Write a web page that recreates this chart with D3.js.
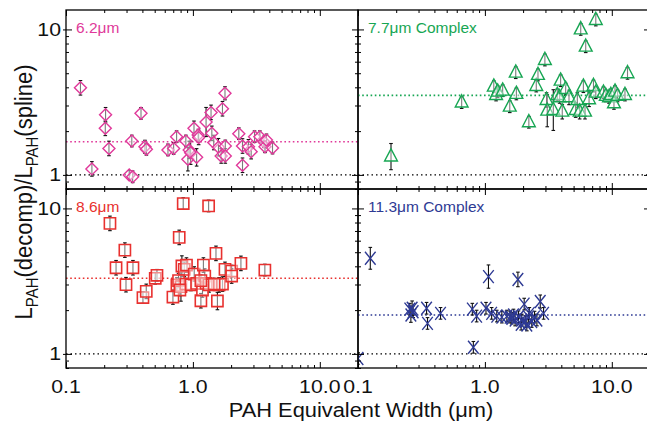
<!DOCTYPE html>
<html><head><meta charset="utf-8">
<script src="https://cdn.jsdelivr.net/npm/d3@7"></script>
<style>body{margin:0;background:#fff}svg{display:block}</style>
</head><body><svg id="c" width="647" height="427"></svg>
<script>
// ---------- data ----------
const ew62    = [0.13,0.16,0.205,0.204,0.218,0.315,0.335,0.39,0.33,0.419,0.43,0.636,0.705,0.744,0.88,0.913,0.935,0.96,1.02,1.07,1.10,1.11,1.27,1.39,1.41,1.46,1.59,1.67,1.71,1.79,1.80,1.80,2.30,2.46,2.46,2.74,2.88,3.06,3.37,3.62,3.70,3.80,4.24];
const ratio62 = [3.97,1.10,2.59,2.09,1.52,1.00,0.97,2.65,1.71,1.56,1.50,1.485,1.52,1.83,1.71,1.28,1.485,1.42,2.09,1.32,1.88,1.81,2.31,2.69,1.93,1.67,1.55,1.35,2.85,3.64,1.58,1.35,1.92,1.165,1.58,1.56,1.445,1.83,1.83,1.69,1.56,1.74,1.53];
const err62   = [0.05,0.05,0.05,0.05,0.05,0.03,0.04,0.04,0.04,0.045,0.04,0.04,0.04,0.04,0.04,0.08,0.06,0.08,0.05,0.06,0.04,0.05,0.10,0.05,0.05,0.05,0.06,0.05,0.05,0.045,0.04,0.05,0.04,0.05,0.05,0.05,0.05,0.04,0.04,0.04,0.04,0.04,0.04];
const median62 = 1.69;

const ew77    = [0.182,0.656,1.175,1.225,1.26,1.38,1.57,1.75,1.77,2.22,2.54,2.62,2.97,3.06,3.10,3.46,3.72,3.88,3.95,4.07,4.33,4.6,5.19,5.35,5.58,5.69,5.97,6.15,6.23,6.62,7.17,7.48,7.48,8.6,8.97,9.5,9.83,10.4,10.6,11.1,12.7,13.3];
const ratio77 = [1.336,3.14,4.04,3.54,3.73,3.79,2.94,5.04,3.60,2.30,4.08,4.86,6.16,3.27,2.76,2.79,3.54,3.41,4.44,2.72,3.89,3.41,2.79,3.27,2.72,10.0,4.04,2.72,7.6,3.31,4.08,11.6,3.67,3.67,3.49,3.41,3.54,3.1,3.73,3.49,3.54,4.99];
const err77   = [0.09,0.04,0.04,0.04,0.04,0.04,0.04,0.04,0.04,0.04,0.04,0.04,0.04,0.05,0.11,0.14,0.04,0.04,0.04,0.05,0.04,0.05,0.05,0.05,0.05,0.04,0.04,0.05,0.04,0.05,0.04,0.04,0.04,0.04,0.04,0.04,0.04,0.04,0.04,0.04,0.04,0.04];
const median77 = 3.52;

const ew86    = [0.222,0.248,0.291,0.297,0.337,0.404,0.429,0.505,0.521,0.696,0.748,0.78,0.805,0.819,0.839,0.855,0.89,0.771,0.881,0.965,1.024,1.07,1.156,1.19,1.21,1.24,1.27,1.33,1.34,1.52,1.56,1.61,1.71,1.79,2.02,2.02,2.39,3.69,0.79,1.156,1.47];
const ratio86 = [7.89,3.91,5.17,2.99,3.91,2.44,2.69,3.31,3.47,2.46,2.98,6.32,2.90,4.02,10.8,3.81,4.08,3.19,3.02,2.98,3.54,3.05,2.32,2.75,4.08,3.43,3.05,10.4,2.98,4.91,2.31,2.98,3.02,3.81,3.71,3.43,4.19,3.77,2.75,3.19,3.02];
const err86   = [0.05,0.05,0.05,0.05,0.05,0.04,0.05,0.04,0.04,0.05,0.05,0.05,0.10,0.07,0.04,0.05,0.05,0.05,0.04,0.04,0.05,0.04,0.05,0.05,0.05,0.05,0.04,0.04,0.05,0.05,0.06,0.05,0.05,0.05,0.04,0.05,0.05,0.04,0.04,0.04,0.04];
const median86 = 3.31;

const ew113    = [0.125,0.1,0.256,0.267,0.261,0.272,0.347,0.353,0.447,0.796,0.861,0.811,1.02,1.067,1.13,1.24,1.36,1.49,1.63,1.73,1.82,1.84,1.95,2.04,2.08,2.21,2.34,2.46,2.73,2.90,2.57,1.68,1.93,2.14,2.24,1.58];
const ratio113 = [4.54,0.93,2.03,2.06,1.85,1.95,2.06,1.62,1.90,2.03,1.82,1.11,2.06,3.40,1.90,1.82,1.79,1.82,1.76,1.71,3.25,1.80,1.71,2.20,1.67,1.79,1.67,1.79,2.29,1.90,1.71,1.85,1.60,1.58,1.90,1.79];
const err113   = [0.075,0.04,0.04,0.05,0.05,0.04,0.04,0.04,0.04,0.04,0.04,0.04,0.04,0.08,0.04,0.04,0.04,0.04,0.04,0.04,0.05,0.04,0.04,0.04,0.04,0.04,0.04,0.04,0.045,0.04,0.04,0.04,0.04,0.04,0.04,0.04];
const median113 = 1.85;

const xTickValues = [0.1, 1, 10];
const xTickLabels = ["0.1", "1.0", "10.0"];
const yTickValues = [1, 10];
const yTickLabels = ["1", "10"];
const xDomain = [0.1, 20];
const yDomain = [0.8, 13.6];
const panelLabels = ["6.2\u03bcm", "7.7\u03bcm Complex", "8.6\u03bcm", "11.3\u03bcm Complex"];
const xTitle = "PAH Equivalent Width (\u03bcm)";

// ---------- layout ----------
const FONT = "'Liberation Sans', Arial, Helvetica, sans-serif";
const cols = [[66, 358], [358, 650]];
const rows = [[10, 189], [189, 368]];
const svg = d3.select("#c");
const defs = svg.append("defs");

const shapes = {
  diamond: "M0,-6L6,0L0,6L-6,0Z",
  triangle: "M0,-7.8L6.4,4.4L-6.4,4.4Z",
  square: "M-5.6,-5.6H5.6V5.6H-5.6Z",
  cross: "M-5.3,-6.5L5.3,6.5M-5.3,6.5L5.3,-6.5"
};

const panels = [
  {label: panelLabels[0], color: "#e0399a", ew: ew62,  r: ratio62,  e: err62,  med: median62,  shape: "diamond",  col: 0, row: 0},
  {label: panelLabels[1], color: "#17a653", ew: ew77,  r: ratio77,  e: err77,  med: median77,  shape: "triangle", col: 1, row: 0},
  {label: panelLabels[2], color: "#e8312f", ew: ew86,  r: ratio86,  e: err86,  med: median86,  shape: "square",   col: 0, row: 1},
  {label: panelLabels[3], color: "#2e3a94", ew: ew113, r: ratio113, e: err113, med: median113, shape: "cross",    col: 1, row: 1}
];

panels.forEach((p, i) => {
  const [x0, x1] = cols[p.col], [y0, y1] = rows[p.row];
  const x = d3.scaleLog().domain(xDomain).range([x0, x1]);
  const y = d3.scaleLog().domain(yDomain).range([y1, y0]);
  const g = svg.append("g");
  defs.append("clipPath").attr("id", "clip" + i)
    .append("rect").attr("x", x0).attr("y", y0).attr("width", x1 - x0).attr("height", y1 - y0);
  const plot = g.append("g").attr("clip-path", `url(#clip${i})`);

  // reference lines
  plot.append("line").attr("x1", x0).attr("x2", x1).attr("y1", y(1)).attr("y2", y(1))
    .attr("stroke", "#000").attr("stroke-width", 1.3).attr("stroke-dasharray", "1.5,3");
  plot.append("line").attr("x1", x0).attr("x2", x1).attr("y1", y(p.med)).attr("y2", y(p.med))
    .attr("stroke", p.color).attr("stroke-width", 1.6).attr("stroke-dasharray", "1.6,2.6");

  const data = p.ew.map((v, k) => ({x: v, y: p.r[k], e: p.e[k]}));

  // error bars
  const eb = plot.append("g").attr("stroke", "#111").attr("stroke-width", 1.1);
  data.forEach(d => {
    const lo = y(d.y / Math.pow(10, d.e)), hi = y(d.y * Math.pow(10, d.e)), cx = x(d.x);
    eb.append("line").attr("x1", cx).attr("x2", cx).attr("y1", lo).attr("y2", hi);
    eb.append("line").attr("x1", cx - 1.8).attr("x2", cx + 1.8).attr("y1", lo).attr("y2", lo);
    eb.append("line").attr("x1", cx - 1.8).attr("x2", cx + 1.8).attr("y1", hi).attr("y2", hi);
  });

  // markers
  plot.append("g").selectAll("path").data(data).join("path")
    .attr("d", shapes[p.shape])
    .attr("transform", d => `translate(${x(d.x)},${y(d.y)})`)
    .attr("fill", p.shape === "cross" ? "none" : "rgba(255,255,255,0.45)")
    .attr("stroke", p.color).attr("stroke-width", p.shape === "square" ? 1.6 : 1.4);

  // ticks
  const minorX = x.ticks().filter(v => !xTickValues.includes(v));
  const minorY = y.ticks().filter(v => !yTickValues.includes(v));
  const tk = (axis, tr) => {
    const a = g.append("g").attr("transform", tr).call(axis);
    a.select(".domain").remove();
    a.selectAll("line").attr("stroke", "#000").attr("stroke-width", 1);
  };
  tk(d3.axisTop(x).tickValues(minorX).tickSize(3).tickFormat(""), `translate(0,${y1})`);
  tk(d3.axisBottom(x).tickValues(minorX).tickSize(3).tickFormat(""), `translate(0,${y0})`);
  tk(d3.axisTop(x).tickValues(xTickValues).tickSize(6).tickFormat(""), `translate(0,${y1})`);
  tk(d3.axisBottom(x).tickValues(xTickValues).tickSize(6).tickFormat(""), `translate(0,${y0})`);
  tk(d3.axisRight(y).tickValues(minorY).tickSize(3).tickFormat(""), `translate(${x0},0)`);
  tk(d3.axisLeft(y).tickValues(minorY).tickSize(3).tickFormat(""), `translate(${x1},0)`);
  tk(d3.axisRight(y).tickValues(yTickValues).tickSize(6).tickFormat(""), `translate(${x0},0)`);
  tk(d3.axisLeft(y).tickValues(yTickValues).tickSize(6).tickFormat(""), `translate(${x1},0)`);
  if (p.col === 0) tk(d3.axisLeft(y).tickValues(yTickValues).tickSize(3).tickFormat(""), `translate(${x0},0)`);

  // frame
  g.append("rect").attr("x", x0).attr("y", y0).attr("width", x1 - x0).attr("height", y1 - y0)
    .attr("fill", "none").attr("stroke", "#000").attr("stroke-width", 1.3);

  // panel label
  g.append("text").attr("x", x0 + 10).attr("y", y0 + 23)
    .attr("font-family", FONT).attr("font-size", 15.5).attr("fill", p.color).text(p.label);

  // tick labels
  if (p.col === 0) {
    yTickValues.forEach((v, k) => {
      g.append("text").attr("transform", `translate(${x0 - 5},${y(v) + 6.5}) scale(1.12,1)`)
        .attr("text-anchor", "end").attr("font-family", FONT).attr("font-size", 19).attr("fill", "#111")
        .text(yTickLabels[k]);
    });
  }
  if (p.row === 1) {
    xTickValues.forEach((v, k) => {
      g.append("text").attr("transform", `translate(${x(v)},${y1 + 25}) scale(1.12,1)`)
        .attr("text-anchor", "middle").attr("font-family", FONT).attr("font-size", 19).attr("fill", "#111")
        .text(xTickLabels[k]);
    });
  }
});

// axis titles
svg.append("text").attr("transform", `translate(361,417) scale(1.12,1)`)
  .attr("text-anchor", "middle").attr("font-family", FONT).attr("font-size", 19.5).attr("fill", "#111")
  .text(xTitle);

const yt = svg.append("text").attr("transform", `translate(32,192) scale(1.12,1) rotate(-90)`)
  .attr("text-anchor", "middle").attr("font-family", FONT).attr("font-size", 22).attr("fill", "#111");
yt.append("tspan").text("L");
yt.append("tspan").attr("font-size", 15).attr("dy", 5).text("PAH");
yt.append("tspan").attr("dy", -5).text("(decomp)/L");
yt.append("tspan").attr("font-size", 15).attr("dy", 5).text("PAH");
yt.append("tspan").attr("dy", -5).text("(spline)");
</script></body></html>
